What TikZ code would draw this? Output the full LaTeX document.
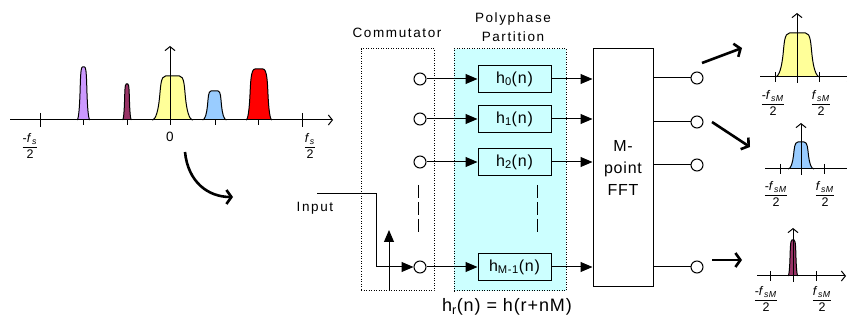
\documentclass[tikz,border=0pt]{standalone}
\usepackage{fontspec}
\setmainfont{Liberation Sans}[LetterSpace=5]
\newfontfamily\widefont{Liberation Sans}[LetterSpace=12]
\usepackage{amsmath}
\usetikzlibrary{arrows.meta}
\definecolor{lilac}{HTML}{CC99FF}
\definecolor{plum}{HTML}{993366}
\definecolor{lemon}{HTML}{FFFF99}
\definecolor{sky}{HTML}{99CCFF}
\definecolor{cyanbg}{HTML}{CCFFFF}
\newcommand\fhalf[1]{$\genfrac{}{}{0.7pt}{0}{\text{#1}}{\text{2}}$}
\newcommand\peak[7]{%
  \pgfmathsetmacro\pkH{#2-#3}%
  \pgfmathsetmacro\pkA{#1-#4}\pgfmathsetmacro\pkAA{#1+#4}%
  \pgfmathsetmacro\pkP{#1-#4+0.55*(#4-#5)}\pgfmathsetmacro\pkPP{#1+#4-0.55*(#4-#5)}%
  \pgfmathsetmacro\pkQ{#1-#5-0.15*(#4-#5)}\pgfmathsetmacro\pkQQ{#1+#5+0.15*(#4-#5)}%
  \pgfmathsetmacro\pkM{#1-#5}\pgfmathsetmacro\pkMM{#1+#5}%
  \pgfmathsetmacro\pkS{#1-#5+0.15*(#4-#5)}\pgfmathsetmacro\pkSS{#1+#5-0.15*(#4-#5)}%
  \pgfmathsetmacro\pkR{#1-#5+0.2*(#5-#6)}\pgfmathsetmacro\pkRR{#1+#5-0.2*(#5-#6)}%
  \pgfmathsetmacro\pkD{#1-#6}\pgfmathsetmacro\pkDD{#1+#6}%
  \pgfmathsetmacro\pkYa{#2-0.25*\pkH}\pgfmathsetmacro\pkYb{#2-0.5*\pkH}%
  \pgfmathsetmacro\pkYc{#2-0.75*\pkH}%
  \filldraw[fill=#7] (\pkA,#2) .. controls (\pkP,#2) and (\pkQ,\pkYa) .. (\pkM,\pkYb)
    .. controls (\pkS,\pkYc) and (\pkR,#3) .. (\pkD,#3) -- (\pkDD,#3)
    .. controls (\pkRR,#3) and (\pkSS,\pkYc) .. (\pkMM,\pkYb)
    .. controls (\pkQQ,\pkYa) and (\pkPP,#2) .. (\pkAA,#2);}

\begin{document}
\begin{tikzpicture}[x=1pt, y=-1pt, line width=1pt,
    port/.style = {draw, circle, fill=white, minimum size=12pt, inner sep=0pt},
    filt/.style = {draw, fill=cyanbg, minimum width=73pt, minimum height=27pt, font=\fontsize{16}{18}\selectfont},
    dotbox/.style = {draw, dash pattern=on 1pt off 1.5pt},
    lbl/.style = {font=\widefont\fontsize{13.5}{19}\selectfont, align=center},
    flow/.style = {-{Triangle[length=12pt,width=10pt]}},
    big/.style = {line width=2.6pt, -{Straight Barb[length=5pt,width=14pt]}},
    axis/.style = {-{Straight Barb[length=4pt,width=10pt]}},
    frac/.style = {font=\fontsize{12.5}{13}\selectfont, inner sep=0pt}]
  \useasboundingbox (0,0) rectangle (847,320);

  \peak{83.5}{120}{67}{6.5}{3.5}{1}{lilac}
  \peak{127}{120}{84}{4.5}{2.5}{0.8}{plum}
  \peak{172.5}{120}{76}{20.5}{13}{7}{lemon}
  \peak{214.5}{120}{91}{12}{7}{3.5}{sky}
  \peak{259}{120}{69}{13}{9}{4}{red}
  \draw[axis] (10,120) -- (333,120);
  \draw[axis] (170,120) -- (170,46);
  \foreach \x in {83,127,170,215,258} \draw (\x,120) -- (\x,125);
  \foreach \x in {40,302} \draw (\x,113) -- (\x,127);
  \node[frac] (lo) at (30,146) {\fhalf{-\textit{f}\textsubscript{\textit{s}}}};
  \node[lbl] (zero) at (170,137) {0};
  \node[frac] (hi) at (310,146) {\fhalf{\textit{f}\textsubscript{\textit{s}}}};

  \coordinate (bend0) at (185,152);
  \coordinate (bend1) at (233,197);
  \draw[big] (bend0) .. controls (188,182) and (208,197) .. (bend1);

  \node[dotbox, minimum width=73pt, minimum height=242pt] (comm) at (397.5,170) {};
  \node[dotbox, fill=cyanbg, minimum width=112pt, minimum height=242pt] (poly) at (510,170) {};
  \node[lbl] (commtxt) at (397,33) {Commutator};
  \node[lbl] (polytxt) at (513,27) {Polyphase\\Partition};

  \node[port] (c0) at (420,79) {};
  \node[port] (c1) at (420,119) {};
  \node[port] (c2) at (420,162) {};
  \node[port] (c3) at (420,267) {};
  \node[filt] (h0) at (514.5,79) {h\textsubscript{0}(n)};
  \node[filt] (h1) at (514.5,119) {h\textsubscript{1}(n)};
  \node[filt] (h2) at (514.5,162) {h\textsubscript{2}(n)};
  \node[filt] (h3) at (514.5,267) {h\textsubscript{M-1}(n)};
  \node[draw, minimum width=60pt, minimum height=238pt, align=center,
        font=\fontsize{16}{22}\selectfont] (fft) at (623,168) {M-\\point\\FFT};

  \foreach \i in {0,1,2,3} {
    \draw[flow] (c\i) -- (h\i);
    \draw[flow] (h\i) -- (h\i -| fft.west);
  }
  \draw[dash pattern=on 13pt off 4pt] (418,185) -- (418,232);
  \draw[dash pattern=on 13pt off 4pt] (537,185) -- (537,232);

  \node[lbl] (intxt) at (315,208) {Input};
  \coordinate (inp) at (317,194);
  \draw[flow] (inp) -- ++(59,0) |- (c3);
  \coordinate (sw0) at (389,291);
  \coordinate (sw1) at (389,230);
  \draw[flow] (sw0) -- (sw1);
  \node[font=\fontsize{18}{20}\selectfont] (rule) at (507,307) {h\textsubscript{r}(n) = h(r+nM)};

  \node[port] (o0) at (697,78) {};
  \node[port] (o1) at (697,122) {};
  \node[port] (o2) at (697,165) {};
  \node[port] (o3) at (697,267) {};
  \foreach \i in {0,1,2,3} \draw (fft.east |- o\i) -- (o\i);

  \coordinate (a0) at (702,63);  \coordinate (b0) at (742,48);
  \coordinate (a1) at (712,122); \coordinate (b1) at (750,147);
  \coordinate (a2) at (712,260); \coordinate (b2) at (742,260);
  \foreach \i in {0,1,2} \draw[big] (a\i) -- (b\i);

  \peak{797.5}{77}{33}{22.5}{14.5}{8}{lemon}
  \draw[axis] (760,77) -- (852,77);
  \draw[axis] (797,77) -- (797,13);
  \foreach \x in {775,819} \draw (\x,72) -- (\x,82);
  \draw (797,77) -- (797,83);
  \node[frac] (s0lo) at (773,103) {\fhalf{-\textit{f}\textsubscript{\textit{sM}}}};
  \node[frac] (s0hi) at (821,103) {\fhalf{\textit{f}\textsubscript{\textit{sM}}}};

  \peak{801}{169}{142}{13}{7.5}{3}{sky}
  \draw[axis] (765,169) -- (854,169);
  \draw[axis] (801,169) -- (801,123);
  \foreach \x in {780,824} \draw (\x,164) -- (\x,174);
  \draw (801,169) -- (801,175);
  \node[frac] (s1lo) at (776,194) {\fhalf{-\textit{f}\textsubscript{\textit{sM}}}};
  \node[frac] (s1hi) at (825,194) {\fhalf{\textit{f}\textsubscript{\textit{sM}}}};

  \peak{793}{276}{240}{5}{3}{1}{plum}
  \draw[axis] (757,276) -- (846,276);
  \draw[axis] (793,276) -- (793,228);
  \foreach \x in {770,816} \draw (\x,271) -- (\x,281);
  \draw (793,276) -- (793,282);
  \node[frac] (s2lo) at (766,299) {\fhalf{-\textit{f}\textsubscript{\textit{sM}}}};
  \node[frac] (s2hi) at (822,299) {\fhalf{\textit{f}\textsubscript{\textit{sM}}}};
\end{tikzpicture}
\end{document}
